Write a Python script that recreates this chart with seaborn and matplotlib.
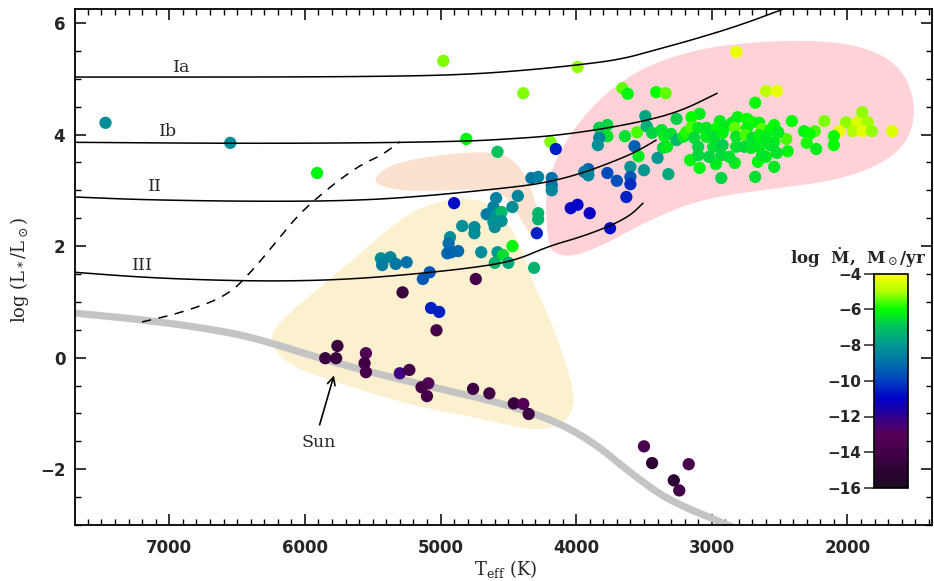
import numpy as np
import pandas as pd
import matplotlib
matplotlib.use('Agg')
import matplotlib.pyplot as plt
import seaborn as sns
from matplotlib.colors import LinearSegmentedColormap, Normalize
from matplotlib.ticker import MultipleLocator
import matplotlib.cm as cm

# ---------------- data ----------------
# stars: effective temperature (K), log L/Lsun, log Mdot (Msun/yr)
teff = [
    # isolated
    7470, 6550, 5910, 4980, 3990, 4390, 4810, 4580, 2820, 4190, 4150,
    # 4000-3200 K giants
    3830, 3770, 3770, 3830, 3840, 3640, 3550, 3490, 3480, 3440, 3370, 3350, 3300, 3260,
    3260, 3210, 3190, 3570, 3540, 3360, 3330, 3400, 3600, 3500, 3320, 3600, 3600, 3700,
    3770, 3910, 3940, 3910, 4180, 4180, 4180, 3630, 4040, 3990, 3900, 3750,
    # 5500-4300 K giants and dwarfs
    4900, 4330, 4280, 4590, 4430, 4610, 4470, 4660, 4590, 4550, 4610, 4550, 4600, 4280,
    4280, 4290, 4840, 4750, 4750, 4930, 4940, 4950, 4920, 4870, 4700, 4580, 4470, 4540,
    4600, 4500, 4310, 5440, 5430, 5370, 5330, 5250, 5080, 5130, 4740, 5280, 5070, 5010,
    5030, 5760, 5850, 5770, 5550, 5560, 5550, 5300, 5230, 5090, 5140, 5100, 4760, 4640,
    4460, 4390, 4350,
    # M dwarfs
    3500, 3440, 3170, 3280, 3240,
    # AGB / red supergiants
    3660, 3620, 3410, 3340, 2600, 2520, 2680, 1890, 2170, 2010, 1930, 1850, 2060, 1960,
    1890, 1820, 1670, 2410, 2320, 2240, 2280, 2450, 2300, 2100, 2100, 2230, 2440, 2540,
    2680, 2930, 3090, 3160, 2970, 2830, 2660, 2600,
    3090, 3150, 2940, 2810, 2740, 2850, 2700, 2650, 2540, 3150, 3100, 3040, 2960, 2910,
    2830, 2740, 2630, 2570, 2510, 3130, 3040, 2980, 2920, 2820, 2750, 2700, 2650, 2600,
    2540, 3100, 2990, 2920, 2820, 2760, 2710, 2650, 2570, 3100, 3020, 2930, 2870, 2630,
    2520,
]
logl = [
    4.21, 3.85, 3.31, 5.32, 5.21, 4.74, 3.92, 3.69, 5.48, 3.87, 3.74,
    4.12, 4.17, 3.97, 3.94, 3.81, 3.97, 4.04, 4.33, 4.15, 4.03, 4.08, 3.97, 4.01, 4.28,
    3.90, 3.96, 4.04, 3.79, 3.61, 3.76, 3.78, 3.58, 3.42, 3.36, 3.29, 3.24, 3.11, 3.17,
    3.31, 3.38, 3.33, 3.27, 3.22, 3.09, 3.00, 2.88, 2.68, 2.74, 2.59, 2.32,
    2.77, 3.22, 3.24, 2.86, 2.90, 2.70, 2.70, 2.57, 2.56, 2.61, 2.43, 2.45, 2.34, 2.59,
    2.48, 2.23, 2.36, 2.34, 2.23, 2.16, 2.05, 1.87, 1.89, 1.91, 1.89, 1.89, 2.00, 1.84,
    1.70, 1.70, 1.61, 1.78, 1.66, 1.80, 1.68, 1.71, 1.53, 1.41, 1.41, 1.17, 0.89, 0.82,
    0.49, 0.21, -0.01, -0.01, 0.08, -0.10, -0.26, -0.28, -0.22, -0.46, -0.53, -0.69, -0.56, -0.64,
    -0.82, -0.83, -1.01,
    -1.59, -1.89, -1.91, -2.20, -2.38,
    4.83, 4.73, 4.76, 4.74, 4.78, 4.78, 4.57, 4.40, 4.24, 4.22, 4.22, 4.22, 4.06, 4.06,
    4.06, 4.06, 4.06, 4.24, 4.06, 4.06, 4.01, 3.92, 3.85, 3.97, 3.81, 3.74, 3.70, 3.42,
    3.24, 3.22, 3.40, 3.54, 3.47, 3.49, 3.51, 3.60,
    4.37, 4.31, 4.24, 4.31, 4.28, 4.21, 4.22, 4.21, 4.17, 4.13, 4.12, 4.12, 4.12, 4.13,
    4.12, 4.12, 4.10, 4.08, 4.04, 3.94, 3.96, 3.96, 4.03, 3.96, 3.99, 3.94, 3.99, 3.94,
    3.86, 3.78, 3.78, 3.81, 3.78, 3.78, 3.76, 3.78, 3.81, 3.63, 3.60, 3.63, 3.60, 3.63,
    3.67,
]
logmdot = [
    -8.3, -8.3, -6.2, -5.3, -5.2, -5.3, -6.2, -7.0, -4.3, -5.3, -10.5,
    -6.8, -6.7, -6.5, -8.5, -8.2, -6.5, -5.6, -7.7, -7.5, -6.7, -6.5, -6.3, -6.5, -6.8,
    -7.2, -6.3, -5.8, -9.3, -6.3, -6.6, -6.3, -8.0, -8.1, -8.0, -7.6, -9.5, -10.3, -9.6,
    -9.8, -9.3, -8.8, -8.5, -9.0, -9.0, -8.5, -10.5, -11.0, -11.0, -11.2, -10.8,
    -10.8, -8.8, -8.6, -8.6, -8.5, -8.6, -8.3, -8.7, -8.2, -7.2, -8.0, -8.2, -8.3, -7.2,
    -7.3, -10.5, -8.2, -8.3, -8.3, -8.2, -9.0, -9.2, -9.3, -9.2, -8.3, -8.0, -6.2, -6.5,
    -7.3, -7.6, -7.3, -8.3, -8.7, -8.5, -8.8, -9.0, -9.5, -9.5, -14.0, -14.5, -10.5, -10.5,
    -14.0, -14.5, -14.5, -14.5, -13.5, -14.3, -14.0, -12.3, -14.0, -13.3, -14.0, -14.0, -14.3, -14.2,
    -14.5, -13.2, -14.3,
    -13.8, -15.0, -13.8, -15.0, -14.0,
    -5.5, -6.2, -6.0, -5.5, -4.8, -4.3, -6.1, -5.2, -5.3, -5.2, -4.5, -5.1, -4.3, -5.0,
    -4.4, -5.2, -4.5, -6.1, -6.2, -5.6, -6.0, -5.6, -5.9, -6.0, -6.1, -6.3, -6.2, -6.4,
    -6.5, -6.7, -6.2, -6.2, -6.3, -6.3, -6.2, -6.3,
    -6.3, -6.0, -6.3, -6.2, -6.0, -6.3, -5.9, -6.2, -6.1, -5.6, -6.3, -6.4, -6.0, -6.3,
    -5.5, -6.2, -5.5, -6.1, -6.3, -6.6, -6.3, -6.5, -6.2, -6.4, -5.6, -6.5, -6.2, -6.3,
    -6.3, -6.7, -6.5, -6.8, -6.5, -6.6, -6.4, -6.3, -6.4, -6.6, -6.7, -6.6, -6.5, -6.4,
    -6.5,
]

# luminosity-class tracks
ia_t = [7695, 6040, 5150, 4710, 4340, 4050, 3680, 3410, 3140, 2790, 2450, 2350]
ia_l = [5.03, 5.03, 5.05, 5.09, 5.16, 5.23, 5.34, 5.52, 5.70, 5.96, 6.27, 6.34]
ib_t = [7695, 6500, 5500, 4800, 4500, 4200, 3850, 3460, 3210, 2960]
ib_l = [3.86, 3.84, 3.85, 3.88, 3.92, 3.97, 4.08, 4.26, 4.44, 4.74]
ii_t = [7695, 7200, 6400, 5700, 5180, 4440, 4200, 3950, 3700, 3550, 3410]
ii_l = [2.88, 2.83, 2.80, 2.81, 2.88, 3.06, 3.15, 3.31, 3.54, 3.70, 3.90]
iii_t = [7695, 7200, 6700, 6200, 5700, 5180, 4700, 4440, 4200, 3970, 3750, 3600, 3507]
iii_l = [1.53, 1.44, 1.39, 1.37, 1.40, 1.50, 1.63, 1.75, 2.00, 2.16, 2.36, 2.55, 2.77]
# dashed boundary
dash_t = [7200, 6920, 6575, 6383, 6184, 6037, 5816, 5595, 5433, 5300]
dash_l = [0.64, 0.80, 1.10, 1.57, 2.16, 2.59, 3.06, 3.45, 3.63, 3.87]
# main sequence (grey)
ms_t = [7700, 7200, 6800, 6400, 5800, 5200, 4450, 3970, 3530, 3290, 2880, 2700]
ms_l = [0.80, 0.68, 0.55, 0.38, -0.08, -0.45, -0.87, -1.33, -2.20, -2.59, -3.00, -3.20]

# shaded regions
yel_t = [6245, 5668, 5263, 5030, 4858, 4637, 4440, 4318, 4197, 4084, 4010, 4033, 4158,
         4342, 4784, 5177, 5914, 6147, 6243]
yel_l = [0.54, 1.71, 2.56, 2.79, 2.86, 2.79, 2.23, 1.33, 0.73, -0.04, -0.67, -1.03, -1.26,
         -1.30, -1.05, -0.88, -0.34, -0.08, 0.22]
pea_t = [5500, 5300, 4689, 4440, 4293, 4268, 4320, 4490, 4615, 5177, 5447]
pea_l = [3.24, 3.54, 3.72, 3.58, 2.83, 2.17, 2.11, 2.83, 3.04, 2.97, 3.06]
pink_t = [4209, 4231, 4158, 3974, 3716, 3384, 2942, 2352, 1910, 1615, 1498, 1527, 1689,
          2058, 2647, 3089, 3458, 3826, 4047, 4180]
pink_l = [2.11, 2.91, 3.54, 4.26, 4.89, 5.34, 5.61, 5.70, 5.61, 5.25, 4.62, 3.99, 3.54,
          3.18, 3.00, 2.83, 2.47, 1.98, 1.80, 1.89]

class_labels = ['Ia', 'Ib', 'II', 'III']
class_lab_t = [6906, 7010, 7105, 7201]
class_lab_l = [5.21, 4.06, 3.06, 1.66]

cbar_ticks = [-4, -6, -8, -10, -12, -14, -16]

# ---------------- style ----------------
sns.set_theme(style='ticks')
plt.rcParams['font.family'] = ['DejaVu Sans']
plt.rcParams['mathtext.fontset'] = 'dejavuserif'

cmap = LinearSegmentedColormap.from_list('mdot', [
    (0.0 / 12, '#1c0a22'), (1.0 / 12, '#2c0433'), (2.0 / 12, '#45004a'),
    (3.0 / 12, '#58005a'), (4.0 / 12, '#300090'), (5.0 / 12, '#0000c8'),
    (6.0 / 12, '#0040c0'), (7.0 / 12, '#0070a8'), (8.0 / 12, '#009890'),
    (9.0 / 12, '#00c060'), (10.0 / 12, '#00ff00'), (11.0 / 12, '#b0ff00'),
    (12.0 / 12, '#ffff00')])
norm = Normalize(vmin=-16, vmax=-4)

W, H = 934, 581
fig = plt.figure(figsize=(W / 100, H / 100), dpi=100)
ax = fig.add_axes([75 / W, 1 - 525 / H, (931.5 - 75) / W, (525 - 9) / H])


def chaikin(xs, ys, n=4, closed=True):
    p = np.column_stack([xs, ys]).astype(float)
    for _ in range(n):
        if closed:
            q = np.roll(p, -1, axis=0)
            a = 0.75 * p + 0.25 * q
            b = 0.25 * p + 0.75 * q
            p = np.empty((2 * len(a), 2))
            p[0::2] = a
            p[1::2] = b
        else:
            a = 0.75 * p[:-1] + 0.25 * p[1:]
            b = 0.25 * p[:-1] + 0.75 * p[1:]
            mid = np.empty((2 * len(a), 2))
            mid[0::2] = a
            mid[1::2] = b
            p = np.vstack([p[:1], mid, p[-1:]])
    return p[:, 0], p[:, 1]


for tt, ll, col in [(yel_t, yel_l, '#fcf1cf'), (pea_t, pea_l, '#fbe1d0'),
                    (pink_t, pink_l, '#ffd2d7')]:
    sx, sy = chaikin(tt, ll, 4, True)
    ax.fill(sx, sy, color=col, lw=0, zorder=0.5)

sx, sy = chaikin(ms_t, ms_l, 3, False)
ax.plot(sx, sy, color='#c4c4c4', lw=5.2, solid_capstyle='butt', zorder=1)

df = pd.DataFrame({'teff': teff, 'logl': logl, 'mdot': logmdot})
sns.scatterplot(data=df, x='teff', y='logl', hue='mdot', palette=cmap, hue_norm=norm,
                s=78, linewidth=0, legend=False, ax=ax, zorder=3)

for tt, ll in [(ia_t, ia_l), (ib_t, ib_l), (ii_t, ii_l), (iii_t, iii_l)]:
    sx, sy = chaikin(tt, ll, 3, False)
    ax.plot(sx, sy, color='black', lw=1.1, zorder=4)
sx, sy = chaikin(dash_t, dash_l, 3, False)
ax.plot(sx, sy, color='black', lw=1.1, ls=(0, (6, 5)), zorder=4)

for lab, tt, ll in zip(class_labels, class_lab_t, class_lab_l):
    ax.text(tt, ll, lab, fontsize=12.5, family='DejaVu Serif', ha='center', va='center', zorder=5)

ax.annotate('', xy=(5780, -0.27), xytext=(5897, -1.25),
            arrowprops=dict(arrowstyle='->', lw=1.2, color='black', mutation_scale=14), zorder=5)
ax.text(5900, -1.53, 'Sun', fontsize=12.5, family='DejaVu Serif', ha='center', va='center')

ax.set_xlim(7695, 1380)
ax.set_ylim(-3.0, 6.25)
ax.xaxis.set_major_locator(MultipleLocator(1000))
ax.xaxis.set_minor_locator(MultipleLocator(100))
ax.yaxis.set_major_locator(MultipleLocator(2))
ax.yaxis.set_minor_locator(MultipleLocator(0.5))
ax.tick_params(which='both', direction='in', top=True, right=True, color='black')
ax.tick_params(which='major', length=8, width=1.1)
ax.tick_params(which='minor', length=4, width=1.0)
ax.tick_params(axis='x', which='major', pad=10)
ax.tick_params(axis='y', which='major', pad=7)
for lab in ax.get_xticklabels() + ax.get_yticklabels():
    lab.set_fontsize(12)
    lab.set_fontweight('bold')
for sp in ax.spines.values():
    sp.set_linewidth(1.3)
    sp.set_color('black')

ax.set_xlabel(r'T$_{\rm eff}$ (K)', fontsize=13, family='DejaVu Serif')
ax.set_ylabel(r'log (L$_*$/L$_\odot$)', fontsize=13, family='DejaVu Serif')
ax.xaxis.set_label_coords((506 - 75) / 856.5, (525 - 558) / 516)
ax.yaxis.set_label_coords((31 - 75) / 856.5, (525 - 270) / 516)

cax = fig.add_axes([874 / W, 1 - 488 / H, 33.5 / W, (488 - 273.5) / H])
sm = cm.ScalarMappable(norm=norm, cmap=cmap)
cb = fig.colorbar(sm, cax=cax, ticks=cbar_ticks)
cax.yaxis.set_ticks_position('left')
cax.yaxis.set_label_position('left')
cax.tick_params(direction='out', length=7, width=1.1, pad=2, labelsize=11)
for lab in cax.get_yticklabels():
    lab.set_fontweight('bold')
cb.outline.set_linewidth(1.2)
cb.outline.set_edgecolor('black')
fig.text(858 / W, 1 - 257 / H, 'log  Ṁ,  M$_\\odot$/yr', fontsize=12, family='DejaVu Serif',
         fontweight='bold', ha='center', va='center')

fig.savefig('out.png', dpi=100)
